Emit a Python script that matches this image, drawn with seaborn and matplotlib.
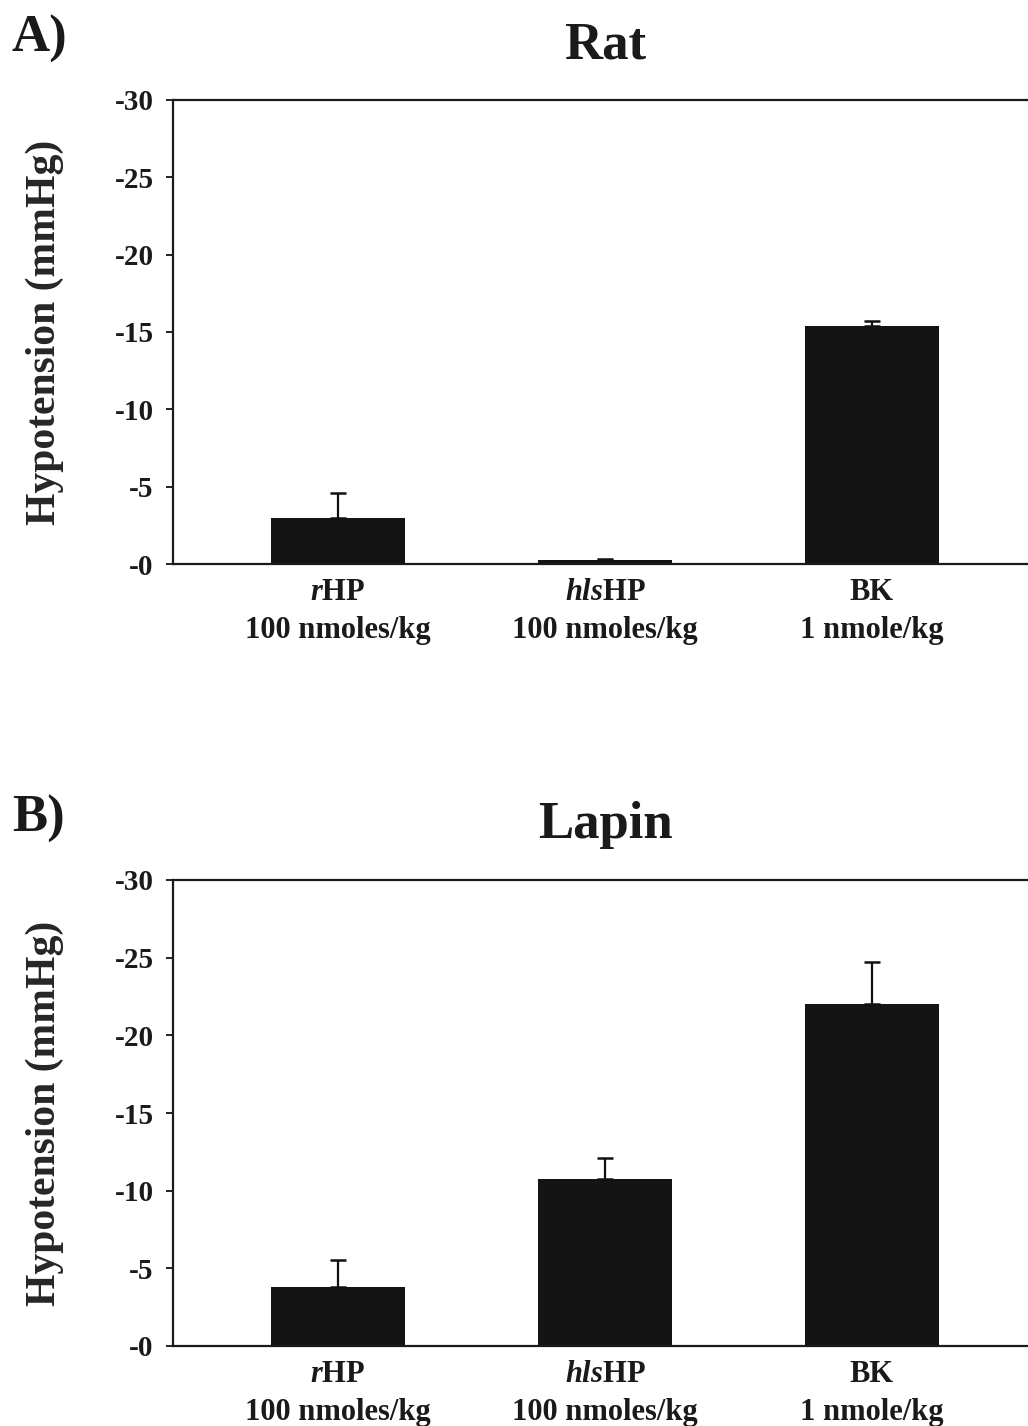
import matplotlib
matplotlib.use("Agg")
import matplotlib.pyplot as plt
import seaborn as sns
import pandas as pd

# Data: hypotension (mmHg, negative = drop in pressure), mean and SEM
treatments = ["rHP", "hlsHP", "BK"]
tick_labels = [
    "$\\mathit{r}$HP\n100 nmoles/kg",
    "$\\mathit{hls}$HP\n100 nmoles/kg",
    "BK\n1 nmole/kg",
]
rat_mean = [-3.0, -0.25, -15.4]
rat_sem = [1.6, 0.1, 0.3]
lapin_mean = [-3.8, -10.75, -22.0]
lapin_sem = [1.75, 1.35, 2.75]
y_ticks = [0, -5, -10, -15, -20, -25, -30]
y_tick_labels = ["-0", "-5", "-10", "-15", "-20", "-25", "-30"]

sns.set_style("ticks")
plt.rcParams["font.family"] = ["Liberation Serif", "DejaVu Serif"]
plt.rcParams["font.weight"] = "bold"
plt.rcParams["text.color"] = "#1a1a1a"
plt.rcParams["mathtext.fontset"] = "custom"
plt.rcParams["mathtext.rm"] = "Liberation Serif:bold"
plt.rcParams["mathtext.it"] = "Liberation Serif:bold:italic"
plt.rcParams["mathtext.bf"] = "Liberation Serif:bold"

W, H = 1028, 1426
fig = plt.figure(figsize=(W / 100, H / 100), dpi=100)


def px_axes(left, top, right, bottom):
    return fig.add_axes([left / W, 1 - bottom / H, (right - left) / W, (bottom - top) / H])


panels = [
    ("A)", "Rat", rat_mean, rat_sem, (173, 100, 1037, 564), 15),
    ("B)", "Lapin", lapin_mean, lapin_sem, (173, 880, 1037, 1346), 795),
]

bar_color = "#141414"
for letter, title, means, sems, box, letter_y in panels:
    ax = px_axes(*box)
    df = pd.DataFrame({"treatment": treatments, "value": means})
    sns.barplot(data=df, x="treatment", y="value", color=bar_color,
                width=0.5, errorbar=None, saturation=1, ax=ax,
                linewidth=0)
    xs = list(range(len(treatments)))
    ax.errorbar(xs, means, yerr=[sems, [0] * len(sems)], fmt="none",
                ecolor="#111111", elinewidth=1.6, capsize=5.8, capthick=1.8,
                zorder=1)
    ax.set_xlim(-0.618, 2.618)
    ax.set_ylim(0, -30)
    ax.set_yticks(y_ticks)
    ax.set_yticklabels(y_tick_labels, fontsize=21, fontweight="bold", color="#1a1a1a")
    ax.set_xticks(xs)
    ax.set_xticklabels(tick_labels, fontsize=22, fontweight="bold",
                       linespacing=1.4, color="#1a1a1a")
    ax.tick_params(axis="x", length=0, pad=10)
    ax.tick_params(axis="y", length=5, width=1.4, pad=9, direction="out", color="#222222")
    ax.set_xlabel("")
    ax.set_ylabel("Hypotension (mmHg)", fontsize=30, fontweight="bold")
    ax.yaxis.set_label_coords(-0.126, 0.5)
    for side in ["left", "top", "bottom", "right"]:
        ax.spines[side].set_linewidth(1.6)
        ax.spines[side].set_color("#1a1a1a")
    ax.set_title(title, fontsize=38, fontweight="bold", pad=30)
    fig.text(12 / W, 1 - letter_y / H, letter, fontsize=38, fontweight="bold",
             ha="left", va="top")

fig.savefig("out.png", dpi=100, facecolor="white")
